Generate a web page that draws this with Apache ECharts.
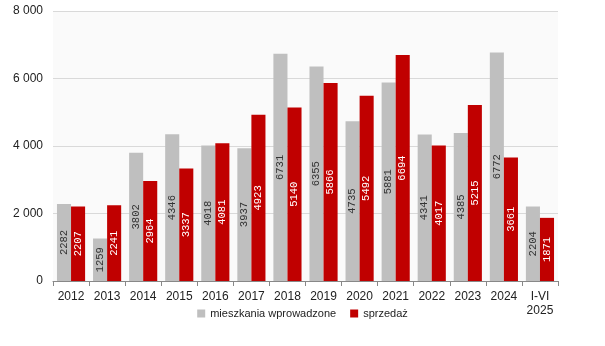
<!DOCTYPE html>
<html><head><meta charset="utf-8">
<script src="https://cdn.jsdelivr.net/npm/echarts@6/dist/echarts.min.js"></script>
<style>html,body{margin:0;padding:0;background:#fff}#c{width:605px;height:346px}</style>
</head><body><div id="c"></div>
<script>
const categories = ['2012','2013','2014','2015','2016','2017','2018','2019','2020','2021','2022','2023','2024','I-VI\n2025'];
const wprowadzone = [2282,1259,3802,4346,4018,3937,6731,6355,4735,5881,4341,4385,6772,2204];
const sprzedaz = [2207,2241,2964,3337,4081,4923,5140,5866,5492,6694,4017,5215,3661,1871];
const seriesNames = ['mieszkania wprowadzone','sprzedaż'];

const GAP = 0.22;
const chart = echarts.init(document.getElementById('c'));
const fmtY = v => v === 0 ? '0' : String(v).replace(/\B(?=(\d{3})+(?!\d))/g, ' ');

// rotated labels centred in each bar, positioned via the axes' own scales
function labelSeries(values, side, color) {
  return {
    type: 'custom', silent: true, z: 5,
    data: values.map((v, i) => [i, v]),
    renderItem: function (params, api) {
      const idx = api.value(0), val = api.value(1);
      const c = api.coord([idx, val / 2]);
      const cw = api.size([1, 0])[0];
      const bw = cw * (1 - GAP) / 2;
      return {
        type: 'text', x: c[0] + side * bw / 2, y: c[1], rotation: Math.PI / 2,
        style: {text: String(val), x: 0, y: 0, align: 'center', verticalAlign: 'middle',
                fill: color, font: '10.5px "Liberation Mono"'}
      };
    }
  };
}

chart.setOption({
  animation: false,
  grid: {left: 53, right: 47, top: 11, bottom: 65, show: true, backgroundColor: '#fafafa', borderWidth: 0},
  legend: {
    bottom: 22, left: 'center', itemWidth: 8, itemHeight: 8, itemGap: 14, icon: 'rect',
    textStyle: {fontFamily: 'Liberation Sans', fontSize: 11, color: '#222'},
    data: seriesNames
  },
  xAxis: {
    type: 'category', data: categories,
    axisLine: {lineStyle: {color: '#888'}},
    axisTick: {show: true, length: 5, lineStyle: {color: '#888'}},
    axisLabel: {fontFamily: 'Liberation Sans', fontSize: 12, color: '#222', margin: 9, lineHeight: 14}
  },
  yAxis: {
    type: 'value', min: 0, max: 8000, interval: 2000,
    axisLine: {show: false}, axisTick: {show: false},
    splitLine: {lineStyle: {color: '#d9d9d9'}},
    axisLabel: {fontFamily: 'Liberation Sans', fontSize: 12, color: '#222', margin: 10, formatter: fmtY}
  },
  series: [
    {name: seriesNames[0], type: 'bar', data: wprowadzone, barGap: '0%', barCategoryGap: (GAP * 100) + '%',
     itemStyle: {color: '#bfbfbf'}},
    {name: seriesNames[1], type: 'bar', data: sprzedaz,
     itemStyle: {color: '#c00000'}},
    labelSeries(wprowadzone, -1, '#333'),
    labelSeries(sprzedaz, 1, '#fff')
  ]
});
</script></body></html>
